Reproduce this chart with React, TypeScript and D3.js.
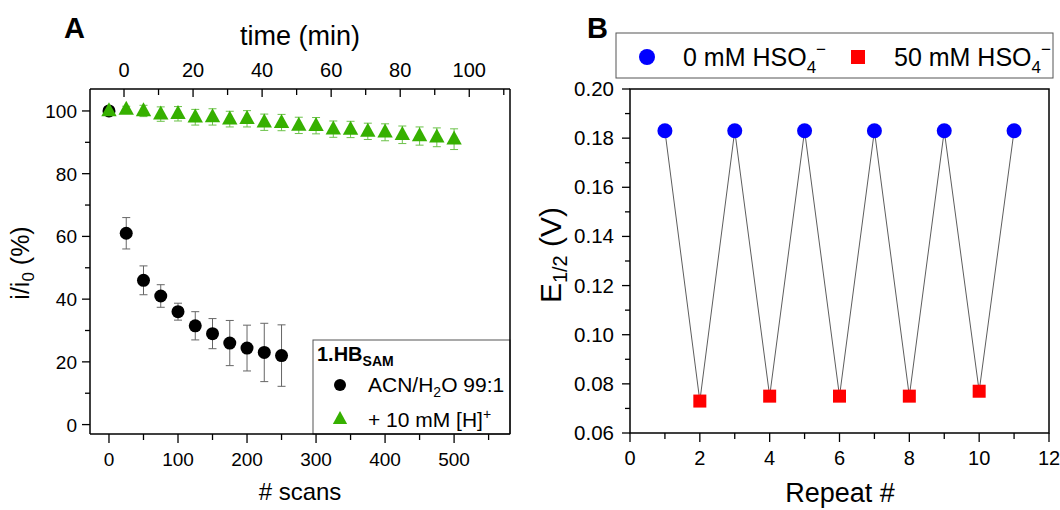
import React from "react";
import * as d3 from "d3";

// ---------- Panel A data ----------
const scansBlack = [0, 25, 50, 75, 100, 125, 150, 175, 200, 225, 250];
const valBlack = [100, 61, 46, 41, 36, 31.5, 29, 26, 24.4, 23, 22];
const errBlack = [0.5, 5, 4.6, 3.6, 2.7, 4.5, 4.8, 7.2, 7.3, 9.3, 9.8];

const scansGreen = [0, 25, 50, 75, 100, 125, 150, 175, 200, 225, 250, 275, 300, 325, 350, 375, 400, 425, 450, 475, 500];
const valGreen = [100, 100.5, 100, 99, 99.1, 98, 98.1, 97.4, 97.5, 96.4, 96.3, 95.4, 95.3, 94.2, 94.1, 93.5, 93.2, 92.4, 92, 91.6, 91];
const errGreen = [0.8, 1.0, 1.8, 2.3, 2.3, 2.5, 2.6, 2.5, 2.6, 2.6, 2.6, 2.6, 2.6, 2.6, 2.6, 2.6, 2.7, 2.8, 2.9, 3.0, 3.3];

const scanTicks = [0, 100, 200, 300, 400, 500];
const scanMinor = [50, 150, 250, 350, 450, 550];
const timeTicks = [0, 20, 40, 60, 80, 100];
const timeMinor = [10, 30, 50, 70, 90, 110];
const yATicks = [0, 20, 40, 60, 80, 100];
const yAMinor = [10, 30, 50, 70, 90];

// ---------- Panel B data ----------
const repeats = [1, 2, 3, 4, 5, 6, 7, 8, 9, 10, 11];
const e12 = [0.183, 0.073, 0.183, 0.075, 0.183, 0.075, 0.183, 0.075, 0.183, 0.077, 0.183];
const xBTicks = [0, 2, 4, 6, 8, 10, 12];
const xBMinor = [1, 3, 5, 7, 9, 11];
const yBTicks = [0.06, 0.08, 0.1, 0.12, 0.14, 0.16, 0.18, 0.2];
const yBMinor = [0.07, 0.09, 0.11, 0.13, 0.15, 0.17, 0.19];

const FONT = "'Liberation Sans', Arial, Helvetica, sans-serif";
const GREEN = "#36b000";

export default function App() {
  // Panel A scales
  const xA = d3.scaleLinear().domain([-27.5, 581]).range([90, 510]);
  const xT = d3.scaleLinear().domain([-9.85, 111.8]).range([90, 510]);
  const yA = d3.scaleLinear().domain([-3, 107]).range([434, 89]);
  // Panel B scales
  const xB = d3.scaleLinear().domain([0, 12]).range([630, 1049]);
  const yB = d3.scaleLinear().domain([0.06, 0.2]).range([433, 89]);

  const line = d3
    .line<number>()
    .x((_, i) => xB(repeats[i]))
    .y((d) => yB(d));

  const tri = (cx: number, cy: number, s: number) =>
    `M${cx},${cy - s * 0.62} L${cx + s * 0.55},${cy + s * 0.38} L${cx - s * 0.55},${cy + s * 0.38} Z`;

  return (
    <svg
      width={1060}
      height={510}
      style={{ position: "absolute", left: 0, top: 0, background: "#fff" }}
      fontFamily={FONT}
    >
      <rect x={0} y={0} width={1060} height={510} fill="#fff" />

      {/* ================= Panel A ================= */}
      <text x={64} y={38} fontSize={29} fontWeight="bold">A</text>
      <text x={300} y={45} fontSize={27} textAnchor="middle">time (min)</text>

      {/* top axis ticks (inward) */}
      {timeTicks.map((t) => (
        <g key={"tt" + t}>
          <line x1={xT(t)} x2={xT(t)} y1={89} y2={97} stroke="#000" strokeWidth={1.3} />
          <text x={xT(t)} y={77} fontSize={20} textAnchor="middle">{t}</text>
        </g>
      ))}
      {timeMinor.map((t) => (
        <line key={"tm" + t} x1={xT(t)} x2={xT(t)} y1={89} y2={95} stroke="#000" strokeWidth={1.3} />
      ))}

      {/* bottom axis */}
      {scanTicks.map((t) => (
        <g key={"st" + t}>
          <line x1={xA(t)} x2={xA(t)} y1={434} y2={443} stroke="#000" strokeWidth={1.3} />
          <text x={xA(t)} y={466} fontSize={19} textAnchor="middle">{t}</text>
        </g>
      ))}
      {scanMinor.map((t) => (
        <line key={"sm" + t} x1={xA(t)} x2={xA(t)} y1={434} y2={440} stroke="#000" strokeWidth={1.3} />
      ))}
      <text x={300} y={500} fontSize={24} textAnchor="middle"># scans</text>

      {/* left axis */}
      {yATicks.map((t) => (
        <g key={"ya" + t}>
          <line x1={82} x2={90} y1={yA(t)} y2={yA(t)} stroke="#000" strokeWidth={1.3} />
          <text x={77} y={yA(t) + 7} fontSize={19} textAnchor="end">{t}</text>
        </g>
      ))}
      {yAMinor.map((t) => (
        <line key={"yam" + t} x1={85} x2={90} y1={yA(t)} y2={yA(t)} stroke="#000" strokeWidth={1.3} />
      ))}
      <text transform="translate(29,263) rotate(-90)" fontSize={25} textAnchor="middle">
        i/i<tspan fontSize={17} dy={5}>0</tspan><tspan dy={-5}> (%)</tspan>
      </text>

      {/* green series */}
      {scansGreen.map((s, i) => (
        <g key={"g" + i}>
          <line x1={xA(s)} x2={xA(s)} y1={yA(valGreen[i] + errGreen[i])} y2={yA(valGreen[i] - errGreen[i])} stroke="#6cc24a" strokeWidth={1} />
          <line x1={xA(s) - 4} x2={xA(s) + 4} y1={yA(valGreen[i] + errGreen[i])} y2={yA(valGreen[i] + errGreen[i])} stroke="#6cc24a" strokeWidth={1} />
          <line x1={xA(s) - 4} x2={xA(s) + 4} y1={yA(valGreen[i] - errGreen[i])} y2={yA(valGreen[i] - errGreen[i])} stroke="#6cc24a" strokeWidth={1} />
        </g>
      ))}
      {/* black series */}
      {scansBlack.map((s, i) => (
        <g key={"b" + i}>
          <line x1={xA(s)} x2={xA(s)} y1={yA(valBlack[i] + errBlack[i])} y2={yA(valBlack[i] - errBlack[i])} stroke="#666" strokeWidth={1} />
          <line x1={xA(s) - 4} x2={xA(s) + 4} y1={yA(valBlack[i] + errBlack[i])} y2={yA(valBlack[i] + errBlack[i])} stroke="#666" strokeWidth={1} />
          <line x1={xA(s) - 4} x2={xA(s) + 4} y1={yA(valBlack[i] - errBlack[i])} y2={yA(valBlack[i] - errBlack[i])} stroke="#666" strokeWidth={1} />
          <circle cx={xA(s)} cy={yA(valBlack[i])} r={6.5} fill="#000" />
        </g>
      ))}
      {scansGreen.map((s, i) => (
        <path key={"gt" + i} d={tri(xA(s), yA(valGreen[i]), 14)} fill={GREEN} />
      ))}

      {/* legend A */}
      <rect x={313} y={340} width={197} height={94} fill="#fff" stroke="#555" strokeWidth={1} />
      <text x={317} y={361} fontSize={20} fontWeight="bold">
        1.HB<tspan fontSize={14} dy={5}>SAM</tspan>
      </text>
      <circle cx={340} cy={385} r={6} fill="#000" />
      <text x={368} y={392} fontSize={21}>
        ACN/H<tspan fontSize={14} dy={5}>2</tspan><tspan dy={-5}>O 99:1</tspan>
      </text>
      <path d={tri(340, 419, 13)} fill={GREEN} />
      <text x={368} y={427} fontSize={21}>
        + 10 mM [H]<tspan fontSize={14} dy={-8}>+</tspan>
      </text>

      {/* frame A */}
      <line x1={90} x2={510} y1={89} y2={89} stroke="#000" strokeWidth={1.5} />
      <line x1={90} x2={510} y1={434} y2={434} stroke="#000" strokeWidth={1.5} />
      <line x1={90} x2={90} y1={89} y2={434} stroke="#000" strokeWidth={1.5} />
      <line x1={510} x2={510} y1={89} y2={434} stroke="#000" strokeWidth={1.5} />

      {/* ================= Panel B ================= */}
      <text x={587} y={38} fontSize={29} fontWeight="bold">B</text>

      {/* legend B */}
      <rect x={616} y={33} width={437} height={45} fill="#fff" stroke="#555" strokeWidth={1} />
      <circle cx={647} cy={57} r={8} fill="#0000ff" />
      <text x={683} y={66} fontSize={25}>
        0 mM HSO<tspan fontSize={17} dy={7}>4</tspan><tspan fontSize={17} dy={-18}>−</tspan>
      </text>
      <rect x={851} y={50} width={14} height={14} fill="#ff0000" />
      <text x={894} y={66} fontSize={25}>
        50 mM HSO<tspan fontSize={17} dy={7}>4</tspan><tspan fontSize={17} dy={-18}>−</tspan>
      </text>

      {/* axes B */}
      {xBTicks.map((t) => (
        <g key={"xb" + t}>
          <line x1={xB(t)} x2={xB(t)} y1={433} y2={442} stroke="#000" strokeWidth={1.3} />
          <text x={xB(t)} y={465} fontSize={20} textAnchor="middle">{t}</text>
        </g>
      ))}
      {xBMinor.map((t) => (
        <line key={"xbm" + t} x1={xB(t)} x2={xB(t)} y1={433} y2={439} stroke="#000" strokeWidth={1.3} />
      ))}
      <text x={840} y={502} fontSize={27} textAnchor="middle">Repeat #</text>
      {yBTicks.map((t) => (
        <g key={"yb" + t}>
          <line x1={622} x2={630} y1={yB(t)} y2={yB(t)} stroke="#000" strokeWidth={1.3} />
          <text x={614} y={yB(t) + 7} fontSize={20.5} textAnchor="end">{t.toFixed(2)}</text>
        </g>
      ))}
      {yBMinor.map((t) => (
        <line key={"ybm" + t} x1={625} x2={630} y1={yB(t)} y2={yB(t)} stroke="#000" strokeWidth={1.3} />
      ))}
      <text transform="translate(561,255) rotate(-90)" fontSize={30} textAnchor="middle">
        E<tspan fontSize={20} dy={6}>1/2</tspan><tspan dy={-6}> (V)</tspan>
      </text>

      {/* data B */}
      <path d={line(e12) || ""} fill="none" stroke="#333" strokeWidth={0.8} />
      {repeats.map((r, i) =>
        i % 2 === 0 ? (
          <circle key={"pb" + i} cx={xB(r)} cy={yB(e12[i])} r={7.5} fill="#0000ff" />
        ) : (
          <rect key={"pb" + i} x={xB(r) - 6.5} y={yB(e12[i]) - 6.5} width={13} height={13} fill="#ff0000" />
        )
      )}

      {/* frame B */}
      <rect x={630} y={89} width={419} height={344} fill="none" stroke="#000" strokeWidth={1.5} />
    </svg>
  );
}
